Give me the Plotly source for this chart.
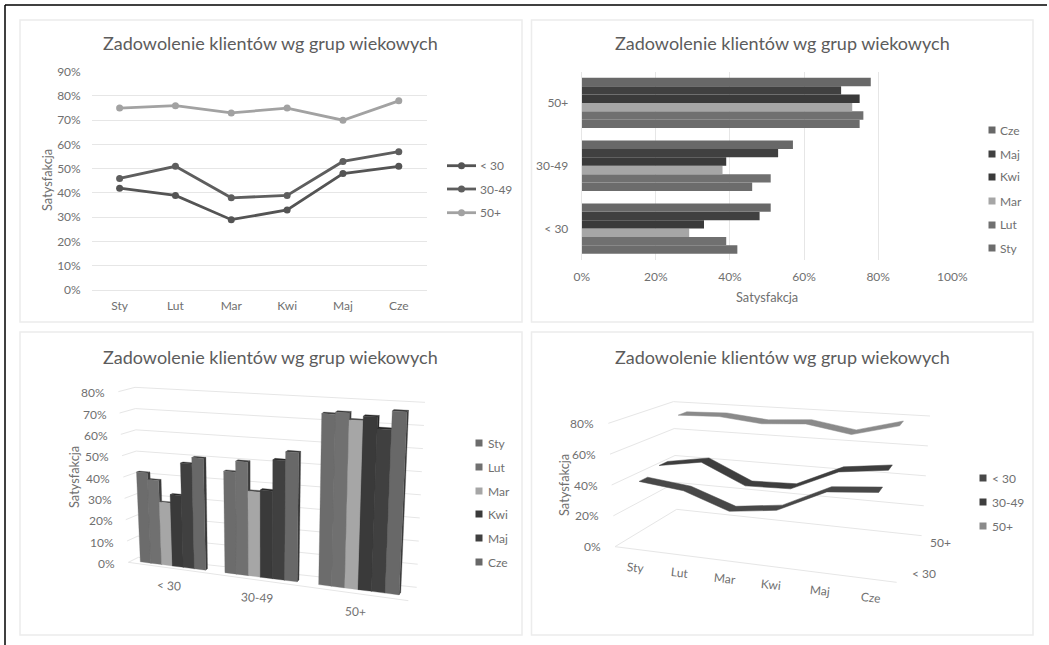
import plotly.graph_objects as go

W, H = 1049, 645

# ---------- data ----------
months = ["Sty", "Lut", "Mar", "Kwi", "Maj", "Cze"]
groups = ["< 30", "30-49", "50+"]
under_30 = [42, 39, 29, 33, 48, 51]
age_30_49 = [46, 51, 38, 39, 53, 57]
age_50_plus = [75, 76, 73, 75, 70, 78]
title_text = "Zadowolenie klientów wg grup wiekowych"
axis_text = "Satysfakcja"

by_group = [under_30, age_30_49, age_50_plus]
by_month = [list(col) for col in zip(*by_group)]

# ---------- style ----------
FONT = "Lato"
TXT = "#707070"
TITLE = "#5c5c5c"
GRID = "#e6e6e6"
PANEL = "#ececec"
line_cols = ["#545454", "#5e5e5e", "#a2a2a2"]
month_cols = ["#6c6c6c", "#707070", "#a6a6a6", "#3a3a3a", "#404040", "#686868"]
month_dark = ["#3c3c3c", "#3c3c3c", "#4a4a4a", "#262626", "#262626", "#3a3a3a"]
ribbon_cols = ["#484848", "#3e3e3e", "#8a8a8a"]


def px(x):
    return x / W


def py(y):
    return 1 - y / H


fig = go.Figure()
annotations = []
shapes = []


def label(x, y, text, size=12, anchor="center", color=TXT, angle=0):
    annotations.append(dict(
        x=px(x), y=py(y), xref="paper", yref="paper", text=text, showarrow=False,
        xanchor=anchor, yanchor="middle", textangle=angle,
        font=dict(family=FONT, size=size, color=color)))


# panel frames and page rules
for x0, y0, x1, y1 in [(20, 20, 522, 322), (531.5, 20, 1033, 322),
                       (20, 332, 522, 635), (531.5, 332, 1033, 635)]:
    shapes.append(dict(type="rect", xref="paper", yref="paper", x0=px(x0), x1=px(x1),
                       y0=py(y0), y1=py(y1), line=dict(color=PANEL, width=1.5)))
shapes.append(dict(type="line", xref="paper", yref="paper", x0=px(5), x1=px(1047), y0=py(5), y1=py(5),
                   line=dict(color="#000000", width=1.5)))
shapes.append(dict(type="line", xref="paper", yref="paper", x0=px(5), x1=px(5), y0=py(5), y1=py(645),
                   line=dict(color="#000000", width=1.5)))

for cx, cy in [(270, 43), (782, 43), (270, 357), (782, 357)]:
    label(cx, cy, title_text, size=18, color=TITLE)

# ---------- panel 1: lines ----------
for name, vals, col in zip(groups, by_group, line_cols):
    fig.add_trace(go.Scatter(x=months, y=vals, name=name, mode="lines+markers", xaxis="x", yaxis="y",
                             line=dict(color=col, width=2.8), marker=dict(color=col, size=7),
                             showlegend=False))
label(47, 180, axis_text, size=12.8, angle=-90)

# ---------- panel 2: grouped bars ----------
for m, vals, col in zip(months, by_month, month_cols):
    fig.add_trace(go.Bar(y=groups, x=vals, name=m, orientation="h", xaxis="x2", yaxis="y2",
                         marker=dict(color=col, line=dict(width=0)), showlegend=False))
label(767, 297, axis_text, size=12.8)


# ---------- pseudo-3D projection used by panels 3 and 4 ----------
def make_projection(c, zmax, r):
    def project(u, d, z):
        w = u / (u + r * (1 - u))
        t = z / zmax
        out = []
        for i in (0, 1):
            fl = c["fl0"][i] + (c["fl1"][i] - c["fl0"][i]) * t
            fr = c["fr0"][i] + (c["fr1"][i] - c["fr0"][i]) * t
            bl = c["bl0"][i] + (c["bl1"][i] - c["bl0"][i]) * t
            br = c["br0"][i] + (c["br1"][i] - c["br0"][i]) * t
            front = fl + (fr - fl) * w
            back = bl + (br - bl) * w
            out.append(front + (back - front) * d)
        return out
    return project


def polyline(points, color, width=1.0, fill=None):
    xs = [p[0] for p in points]
    ys = [p[1] for p in points]
    if fill:
        fig.add_trace(go.Scatter(x=xs, y=ys, mode="lines", fill="toself", fillcolor=fill, xaxis="x3", yaxis="y3",
                                 line=dict(color=fill, width=width), showlegend=False, hoverinfo="skip"))
    else:
        fig.add_trace(go.Scatter(x=xs, y=ys, mode="lines", xaxis="x3", yaxis="y3",
                                 line=dict(color=color, width=width), showlegend=False, hoverinfo="skip"))


def frame3(ox, oy, pts):
    return {k: (ox + v[0] / 3, oy + v[1] / 3) for k, v in pts.items()}


# ---------- panel 3: 3D clustered columns ----------
p3 = make_projection(frame3(20, 330, dict(
    fl0=(325, 697), fl1=(295, 185), bl0=(355, 682), bl1=(345, 172),
    br0=(1190, 772), br1=(1215, 217), fr0=(1165, 812), fr1=(1192, 242))), 80, 1.17)

for z in range(0, 90, 10):
    polyline([p3(0, 0, z), p3(0, 1, z), p3(1, 1, z)], GRID)
    label(p3(0, 0, z)[0] - 11, p3(0, 0, z)[1] + 1, f"{z}%", anchor="right")
polyline([p3(0, 0, 0), p3(1, 0, 0)], GRID)

GAP3, D0, D1 = 0.11, 0.32, 0.52
for g, vals in enumerate(by_group):
    for s, v in enumerate(vals):
        step = (1 - 2 * GAP3) / len(vals)
        u0 = (g + GAP3 + s * step) / 3
        u1 = (g + GAP3 + (s + 1) * step) / 3
        polyline([p3(u1, D0, 0), p3(u1, D1, 0), p3(u1, D1, v), p3(u1, D0, v), p3(u1, D0, 0)],
                 None, 0.3, fill=month_dark[s])
        polyline([p3(u0, D0, v), p3(u1, D0, v), p3(u1, D1, v), p3(u0, D1, v), p3(u0, D0, v)],
                 None, 0.3, fill=month_dark[s])
        polyline([p3(u0, D0, 0), p3(u1, D0, 0), p3(u1, D0, v), p3(u0, D0, v), p3(u0, D0, 0)],
                 None, 0.3, fill=month_cols[s])
for g, name in enumerate(groups):
    x, y = p3((g + 0.5) / 3, 0, 0)
    label(x, y + 18, name, angle=3)
label(74, 477, axis_text, size=12.8, angle=-90)

# ---------- panel 4: 3D ribbons ----------
p4 = make_projection(frame3(530, 330, dict(
    fl0=(255, 650), fl1=(235, 280), bl0=(440, 538), bl1=(430, 215),
    br0=(1175, 617), br1=(1200, 258), fr0=(1100, 757), fr1=(1130, 365))), 80, 1.12)

for z in range(0, 100, 20):
    polyline([p4(0, 0, z), p4(0, 1, z), p4(1, 1, z)], GRID)
    label(p4(0, 0, z)[0] - 12, p4(0, 0, z)[1], f"{z}%", anchor="right")
polyline([p4(0, 0, 0), p4(1, 0, 0)], GRID)

HALF = 0.07
for g in (2, 1, 0):
    vals = by_group[g]
    dc = (g + 0.5) / 3
    us = [(i + 0.5) / len(vals) for i in range(len(vals))]
    front = [p4(u, dc - HALF, v) for u, v in zip(us, vals)]
    back = [p4(u, dc + HALF, v) for u, v in zip(us, vals)]
    polyline(front + back[::-1] + front[:1], None, 0.5, fill=ribbon_cols[g])
for i, m in enumerate(months):
    x, y = p4((i + 0.5) / len(months), 0, 0)
    label(x, y + 18, m, angle=6)
for g in (0, 2):
    x, y = p4(1, (g + 0.5) / 3, 0)
    label(x + 23, y - 1, groups[g])
label(564, 485, axis_text, size=12.8, angle=-90)


# ---------- hand-placed legends ----------
def key_square(x, y, col):
    fig.add_trace(go.Scatter(x=[x], y=[y], mode="markers", xaxis="x3", yaxis="y3", showlegend=False,
                             hoverinfo="skip", marker=dict(symbol="square", size=7, color=col)))


for name, col, y in zip(groups, line_cols, [165.7, 189, 212.7]):
    fig.add_trace(go.Scatter(x=[447, 461.5, 476], y=[y, y, y], mode="lines", xaxis="x3", yaxis="y3",
                             showlegend=False, hoverinfo="skip", line=dict(color=col, width=2.8)))
    fig.add_trace(go.Scatter(x=[461.5], y=[y], mode="markers", xaxis="x3", yaxis="y3",
                             showlegend=False, hoverinfo="skip", marker=dict(color=col, size=7)))
    label(478, y, name, anchor="left")

for m, col, y in zip(months[::-1], month_cols[::-1], [130, 154, 177, 201, 225, 248]):
    key_square(992, y, col)
    label(998, y, m, anchor="left")

for m, col, y in zip(months, month_cols, [443, 467, 491, 514, 538, 562]):
    key_square(479, y, col)
    label(486, y, m, anchor="left")

for name, col, y in zip(groups, ribbon_cols, [478, 502, 526]):
    key_square(983, y, col)
    label(990, y, name, anchor="left")

# ---------- layout ----------
tick = dict(family=FONT, size=12, color=TXT)
fig.update_layout(
    template="none",
    width=W, height=H, autosize=False, margin=dict(l=0, r=0, t=0, b=0, pad=0, autoexpand=False),
    paper_bgcolor="#ffffff", plot_bgcolor="rgba(0,0,0,0)",
    barmode="group", bargap=0.2, bargroupgap=0,
    showlegend=False, annotations=annotations, shapes=shapes,
    xaxis=dict(domain=[px(91.7), px(426.7)], anchor="y", type="category", categoryorder="array", automargin=False,
               categoryarray=months, range=[-0.5, 5.5], showgrid=False, showline=True, linecolor=GRID,
               ticks="", tickfont=tick, ticklabelstandoff=5),
    yaxis=dict(domain=[py(290), py(71.7)], anchor="x", range=[0, 90], dtick=10, ticksuffix="%", automargin=False,
               gridcolor=GRID, gridwidth=1, zeroline=False, showline=False, ticks="", tickfont=tick,
               ticklabelstandoff=10),
    xaxis2=dict(domain=[px(581.7), px(952.3)], anchor="y2", range=[0, 100], dtick=20, ticksuffix="%", automargin=False,
                gridcolor=GRID, gridwidth=1, zeroline=False, ticks="", tickfont=tick, ticklabelstandoff=8),
    yaxis2=dict(domain=[py(260), py(71.5)], anchor="x2", type="category", categoryorder="array", automargin=False,
                categoryarray=groups, showgrid=False, showline=True, linecolor=GRID, ticks="", tickfont=tick,
                ticklabelstandoff=10),
    xaxis3=dict(domain=[0, 1], anchor="y3", range=[0, W], visible=False, fixedrange=True, automargin=False),
    yaxis3=dict(domain=[0, 1], anchor="x3", range=[H, 0], visible=False, fixedrange=True, automargin=False),
)

fig.write_html("out.html", config={"displayModeBar": False}, post_script="""
document.documentElement.style.margin='0';document.body.style.margin='0';document.body.style.padding='0';
""")
